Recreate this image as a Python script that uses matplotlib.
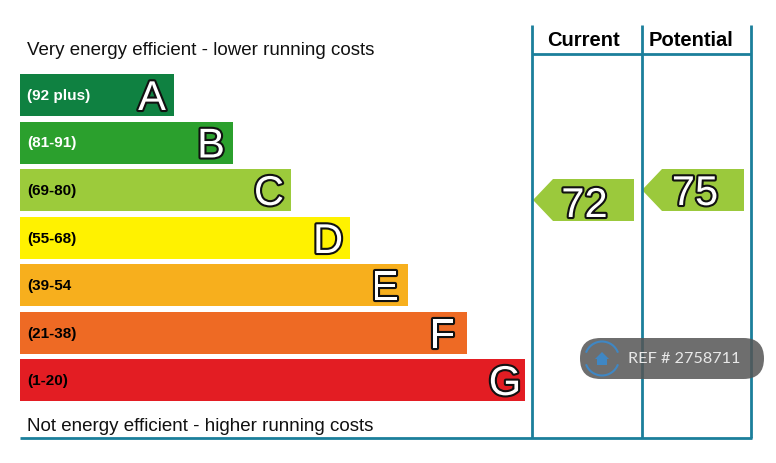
import matplotlib
matplotlib.use('Agg')
import matplotlib.pyplot as plt
import matplotlib.patheffects as pe
from matplotlib.patches import Polygon, FancyBboxPatch, Arc

plt.rcParams['font.family'] = ['Liberation Sans', 'DejaVu Sans']

# Data
bands = ['(92 plus)', '(81-91)', '(69-80)', '(55-68)', '(39-54', '(21-38)', '(1-20)']
letters = ['A', 'B', 'C', 'D', 'E', 'F', 'G']
bar_lengths = [154, 213, 271, 330, 388, 447, 505]
bar_colors = ['#0f8141', '#2ba02d', '#9ccb3b', '#fff200', '#f7af1d', '#ee6a24', '#e31d23']
band_text_colors = ['white', 'white', 'black', 'black', 'black', 'black', 'black']
current_score = 72
potential_score = 75
score_color = '#9bc93c'
line_color = '#1b7f9b'

fig = plt.figure(figsize=(7.76, 4.64), dpi=100)
ax = fig.add_axes([0, 0, 1, 1])
ax.set_xlim(0, 776)
ax.set_ylim(463, -1)
ax.axis('off')

# rating bars
tops = [74, 121.5, 169, 217, 264, 312, 359]
centres = [t + 21 for t in tops]
ax.barh(centres, bar_lengths, height=42, left=20, color=bar_colors)

# how far each big letter sits back from the end of its bar
letter_inset = [22, 22, 22, 22, 23, 25, 20]
outline = [pe.withStroke(linewidth=3, foreground='#111111')]
for i in range(len(bands)):
    ax.text(27, centres[i], bands[i], fontsize=11, fontweight='bold',
            color=band_text_colors[i], va='center')
    ax.text(20 + bar_lengths[i] - letter_inset[i], centres[i] + 15, letters[i], fontsize=30, color='white',
            ha='center', va='baseline', path_effects=outline)

ax.text(27, 49.5, 'Very energy efficient - lower running costs', fontsize=13.5, va='center', color='#111111')
ax.text(27, 425.5, 'Not energy efficient - higher running costs', fontsize=13.5, va='center', color='#111111')

# table lines
for x in [531.5, 641.5, 751]:
    ax.plot([x, x], [25, 437.5], color=line_color, lw=2, solid_capstyle='butt')
ax.plot([531.5, 751], [53.5, 53.5], color=line_color, lw=2, solid_capstyle='butt')
ax.plot([20, 752], [437.5, 437.5], color=line_color, lw=2, solid_capstyle='butt')

ax.text(583, 39, 'Current', fontsize=14.5, fontweight='bold', ha='center', va='center')
ax.text(691, 39, 'Potential', fontsize=14.5, fontweight='bold', ha='center', va='center')

# score arrows
ax.add_patch(Polygon([[533, 200], [553, 179], [634, 179], [634, 221], [553, 221]], color=score_color, lw=0))
ax.add_patch(Polygon([[642, 190], [662, 169], [744, 169], [744, 211], [662, 211]], color=score_color, lw=0))
ax.text(584.5, 217, str(current_score), fontsize=30, color='white', ha='center', va='baseline', path_effects=outline)
ax.text(695, 205, str(potential_score), fontsize=30, color='white', ha='center', va='baseline', path_effects=outline)

# watermark
ax.add_patch(FancyBboxPatch((580, 338), 184, 41, boxstyle='round,pad=0,rounding_size=20.5',
                            facecolor='#555555', edgecolor='none', alpha=0.85, zorder=5))
for start, end in [(20, 160), (200, 340)]:
    ax.add_patch(Arc((602, 358.5), 34, 34, theta1=start, theta2=end, edgecolor='#3f87c4', lw=1.5, zorder=6))
ax.add_patch(Polygon([[595, 359], [602, 352], [609, 359], [607, 359], [607, 365], [597, 365], [597, 359]],
                     color='#3f87c4', lw=0, zorder=6))
ax.text(628, 358.5, 'REF # 2758711', fontsize=11.7, family='Lato', color='#e8e8e8', va='center', zorder=6)

fig.savefig('out.png', dpi=100)
